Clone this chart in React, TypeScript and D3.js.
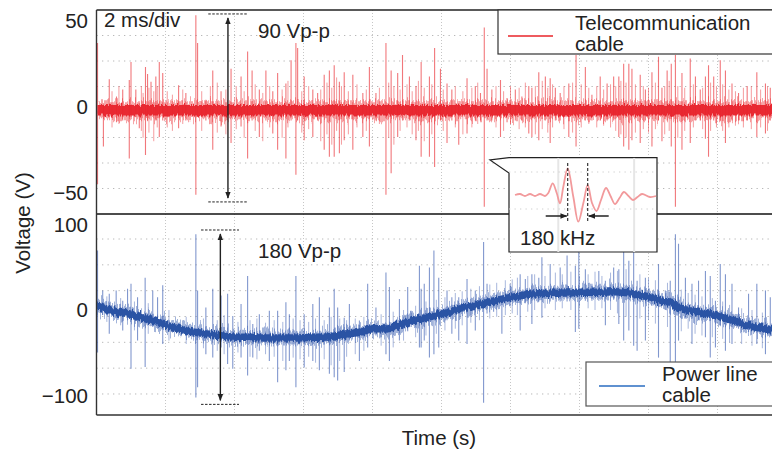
import React from 'react';
import * as d3 from 'd3';

// ---------- data ----------
const timeGridMs = [2, 4, 6, 8, 10, 12, 14, 16, 18];
const topTickValues = [50, 0, -50];
const topTickLabels = ['50', '0', '\u221250'];
const bottomTickValues = [100, 0, -100];
const bottomTickLabels = ['100', '0', '\u2212100'];

// telecommunication cable: flat baseline (ms, V)
const teleBaseline: [number, number][] = [[0, -2], [20, -2]];
// major spikes: [time ms, high V, low V]
const teleSpikes: [number, number, number][] = [
  [0.03, 37, -45], [0.2, 2, -23], [0.37, 16, -6], [0.58, 6, -9], [0.76, 10, -8], [0.95, 15.5, -30],
  [1.0, 26, -6], [1.14, 10, -6], [1.24, 2, -12.5], [1.42, 23, -28], [1.48, 19, -8], [1.58, 14.5, -8],
  [1.72, 17.5, -8], [1.82, 26, -17.5], [1.92, 19.5, -8], [2.38, 12.5, -12.5], [2.59, 8, -8], [2.88, 53, -51],
  [2.93, 37, -6], [3.17, 4, -8], [3.37, 21, -25], [3.61, 9, -11.5], [3.9, 22, -21], [4.19, 17.5, -11.5],
  [4.38, 32, -30], [4.51, 21, -8], [4.72, 10, -17.5], [4.91, 21, -8], [5.11, 9, -15.5], [5.25, 19.5, -25],
  [5.49, 13.5, -30], [5.64, 27, -8], [5.78, 37, -39.5], [5.83, 34, -8], [6.02, 17.5, -19.5], [6.27, 10, -17.5],
  [6.41, 8, -8], [6.6, 18.5, -25], [6.75, 21, -29], [6.89, 24, -29], [7.04, 14.5, -27], [7.18, 20, -19.5],
  [7.43, 18.5, -25], [7.72, 8, -17.5], [7.91, 23, -23], [8.1, 8, -8], [8.39, 37, -51], [8.54, 21, -38.5],
  [8.73, 19.5, -17.5], [8.87, 30, -8], [9.07, 17.5, -8], [9.26, 12, -19.5], [9.41, 26, -29], [9.65, 17.5, -29],
  [9.8, 34, -35], [9.97, 22, -8], [10.16, 13.5, -21], [10.3, 10, -8], [10.5, 2, -22], [10.74, 16.5, -15.5],
  [10.98, 12, -8], [11.13, 8, -8], [11.24, 46, -58], [11.32, 22, -8], [11.46, 10, -8], [11.71, 15.5, -17.5],
  [11.9, 5, -9], [12.14, 10, -8], [12.33, 6, -8], [12.53, 12, -15.5], [12.62, 11, -17.5], [12.82, 20, -19.5],
  [13.01, 17.5, -8], [13.15, 16.5, -21], [13.3, 11, -8], [13.44, 8, -8], [13.69, 13.5, -17.5], [13.9, 30, -23],
  [14.17, 23, -8], [14.36, 7, -8], [14.6, 17.5, -8], [14.8, 13.5, -8], [14.99, 17.5, -8], [15.14, 17.5, -17.5],
  [15.28, 25, -23], [15.43, 25, -25], [15.52, 22, -19.5], [15.76, 18.5, -21], [15.91, 10, -8], [16.1, 20, -23],
  [16.29, 29, -8], [16.39, 11, -20], [16.54, 21, -8], [16.66, 25, -23], [16.78, 30, -58], [16.97, 19.5, -25],
  [17.21, 28, -21], [17.36, 17.5, -8], [17.5, 10, -8], [17.65, 17.5, -18.5], [17.74, 24, -29], [17.89, 17.5, -8],
  [18.08, 27, -8], [18.23, 21, -21], [18.42, 13.5, -8], [18.61, 8, -8], [18.86, 12, -8], [19.14, 20, -17.5],
  [19.39, 13.5, -15.5], [19.53, 11, -8],
];
// minor spikes (fainter)
const teleMinor: [number, number, number][] = [
  [0.45, 9, -12], [0.65, 12, -10], [1.3, 12, -14], [1.35, 8, -18], [1.52, 11, -15], [1.66, 9, -20], [1.76, 12, -12],
  [2.05, 9, -12], [2.2, 7, -14], [2.5, 10, -10], [3.05, 9, -14], [3.3, 12, -10], [3.5, 14, -15], [3.75, 10, -16],
  [4.05, 12, -13], [4.28, 9, -18], [4.6, 13, -14], [4.82, 8, -20], [5.02, 12, -12], [5.38, 10, -18], [5.55, 15, -12],
  [5.95, 9, -15], [6.15, 12, -13], [6.5, 10, -20], [6.68, 14, -16], [6.82, 11, -22], [6.96, 17, -14], [7.1, 12, -22],
  [7.3, 9, -16], [7.55, 13, -12], [7.82, 10, -14], [8.2, 11, -10], [8.47, 14, -18], [8.62, 12, -22], [8.8, 10, -14],
  [9.0, 13, -12], [9.15, 9, -16], [9.33, 15, -14], [9.5, 11, -20], [9.72, 13, -16], [10.05, 10, -14], [10.4, 12, -12],
  [10.62, 9, -16], [10.88, 11, -12], [11.05, 14, -10], [11.58, 12, -12], [11.8, 9, -14], [12.0, 12, -10],
  [12.25, 11, -13], [12.43, 14, -12], [12.72, 12, -16], [12.92, 15, -13], [13.08, 11, -15], [13.22, 13, -12],
  [13.55, 12, -13], [13.8, 14, -15], [14.05, 13, -12], [14.27, 11, -10], [14.5, 12, -12], [14.7, 10, -11],
  [14.9, 13, -12], [15.05, 12, -14], [15.2, 15, -16], [15.35, 14, -18], [15.62, 13, -15], [15.85, 12, -13],
  [16.0, 11, -15], [16.2, 14, -13], [16.47, 12, -16], [16.6, 15, -14], [16.85, 12, -18], [17.05, 11, -14],
  [17.3, 13, -12], [17.57, 11, -13], [17.8, 14, -14], [17.97, 12, -12], [18.15, 13, -14], [18.33, 10, -12],
  [18.52, 9, -11], [18.75, 11, -12], [18.98, 12, -13], [19.25, 10, -12], [19.45, 12, -14],
];

// power line cable: slow baseline (ms, V)
const powerBaseline: [number, number][] = [
  [0, 5], [0.47, -1], [0.95, -4.7], [1.43, -10.6], [1.92, -16.5], [2.4, -22.4], [2.88, -26.3], [3.37, -29],
  [3.85, -31.4], [4.33, -32.2], [4.82, -32.9], [5.3, -32.9], [5.78, -32.9], [6.27, -32.2], [6.75, -31.4],
  [7.23, -28.2], [7.72, -25.5], [8.0, -22], [8.39, -22.4], [8.68, -19], [9.16, -12.5], [9.7, -7.5],
  [10.21, -2.7], [10.69, 3.1], [11.17, 7.1], [11.66, 11.8], [12.14, 15.7], [12.62, 18.8], [13.11, 19.6],
  [13.59, 20], [14.07, 20.8], [14.56, 20.8], [15.04, 21.6], [15.52, 19.6], [15.81, 16.9], [16.1, 14.9],
  [16.39, 10.2], [16.68, 9], [16.87, 3.1], [17.45, -2.7], [17.93, -6.7], [18.42, -12.5], [18.9, -18.4],
  [19.39, -22.4], [20, -25],
];
const powerSpikes: [number, number, number][] = [
  [0.03, 70, -50], [0.18, 23, -6], [0.37, 19, -28], [0.57, 23, -9], [0.76, 11, -24], [0.9, 25, -12],
  [1.0, 31, -69], [1.19, 15, -36], [1.41, 38, -67], [1.63, 23, -20], [1.77, 15, -22], [1.92, 29, -40],
  [2.88, 89, -103], [2.93, 23, -91], [3.17, 3, -52], [3.37, 25, -56], [3.61, 17, -44], [3.8, 19, -63.5],
  [3.95, -7, -69], [4.19, 7, -56], [4.38, 40, -77], [4.53, -16.5, -56], [4.72, -5, -48], [5.01, -1, -60],
  [5.25, -1, -85], [5.49, 9, -71], [5.59, -5, -60], [5.78, 40, -91], [6.02, -5, -67.5], [6.27, 7, -60],
  [6.46, 15, -71], [6.75, 3, -75], [6.89, 25, -79], [6.99, 3, -83], [7.18, -9, -73], [7.33, 7, -36],
  [7.62, -12.5, -60], [7.86, 31, -44], [8.1, 3, -30], [8.39, 44, -52], [8.49, 27, -60], [8.78, 13, -36],
  [9.02, 27, -25], [9.12, -1, -20], [9.36, 52, -44], [9.41, 25, -44], [9.5, 31, -36], [9.65, 50, -56],
  [9.78, 70, -52], [9.92, 38, -44], [10.16, 23, -12], [10.3, 15, -28], [10.5, 15, -36], [10.74, 36.5, -40],
  [10.98, 23, -24], [11.22, 80, -109], [11.32, 31, -4], [11.51, 15, -2], [11.75, 15, -28], [11.99, 31, 4],
  [12.28, 42, -24], [12.43, 36.5, 8], [12.62, 42, -16.5], [12.82, 38, 10], [12.91, 62, -9], [13.15, 54, 10],
  [13.44, 50, 10], [13.64, 64, 10], [13.88, 52, -26], [13.98, 76, -22], [14.17, 48, 11], [14.36, 31, 11],
  [14.56, 46, 11], [14.75, 34.5, -18], [14.99, 50, 12], [15.14, 48, -16.5], [15.28, 70, -36], [15.43, 58, -24],
  [15.57, 68, -42], [15.67, 34.5, -48], [15.91, 38, -36], [16.1, 19, 5], [16.29, 54, -56], [16.49, 23, 0],
  [16.63, 34.5, -71], [16.78, 89, -91], [16.87, 78, -36], [17.07, 38, -10], [17.26, 31, -40], [17.45, 34.5, -12],
  [17.65, 46, -32], [17.79, 40, -56], [17.94, 11, -44], [18.08, 54, -18], [18.23, 42, -48], [18.42, 31, -40],
  [18.61, 3, -22], [18.9, 19, -26], [19.14, 31, -40], [19.39, 23, -52], [19.53, 15, -30],
];
const powerMinor: [number, number, number][] = [
  [0.3, 16, -14], [0.7, 14, -18], [1.1, 10, -24], [1.5, 8, -28], [2.1, 0, -36], [2.6, -8, -40], [3.1, -10, -45],
  [3.5, -12, -48], [3.7, -6, -52], [4.1, -14, -50], [4.45, -12, -55], [4.65, -10, -58], [4.9, -15, -52],
  [5.15, -12, -55], [5.4, -14, -60], [5.7, -10, -56], [5.9, -12, -58], [6.15, -14, -55], [6.35, -10, -62],
  [6.6, -12, -58], [6.8, -8, -65], [7.05, -10, -60], [7.25, -12, -55], [7.5, -10, -52], [7.75, -8, -48],
  [8.25, -5, -42], [8.6, -2, -44], [8.9, 0, -36], [9.25, 5, -32], [9.55, 10, -30], [9.85, 12, -28], [10.1, 15, -24],
  [10.4, 20, -22], [10.6, 22, -18], [10.85, 25, -15], [11.1, 28, -12], [11.4, 30, -10], [11.6, 32, -8],
  [11.85, 35, -6], [12.05, 36, -4], [12.2, 38, -6], [12.5, 40, -2], [12.7, 42, 0], [13.0, 40, 2], [13.3, 44, 0],
  [13.5, 42, 2], [13.75, 45, 0], [14.0, 40, 4], [14.25, 42, 2], [14.45, 45, 0], [14.65, 40, 2], [14.9, 44, 0],
  [15.1, 46, -4], [15.35, 48, -8], [15.75, 42, -10], [16.0, 38, -12], [16.2, 35, -16], [16.55, 32, -20],
  [16.95, 24, -25], [17.15, 20, -22], [17.35, 18, -28], [17.55, 16, -30], [17.85, 14, -32], [18.15, 10, -34],
  [18.35, 6, -38], [18.7, 2, -40], [19.0, 0, -42], [19.3, -3, -45],
];

// inset: single burst (µs, relative amplitude)
const insetWave: [number, number][] = [
  [1.59, 0], [2.91, 1], [4.23, -1], [5.56, 1], [6.88, -1], [8.2, 1], [9.52, -1], [10.4, 2], [11.56, 11.7],
  [12.62, 2], [13.49, -8.3], [14.37, 8.3], [15.53, 26.7], [17.01, -1.7], [18.33, -26.7], [19.66, -8.3],
  [20.82, 10], [21.96, -8], [23.15, -16], [24.34, -5], [25.66, 7], [26.85, -1], [28.04, -9], [29.23, -3],
  [30.42, 3], [31.61, -1], [32.8, -5], [33.99, -2], [35.19, 1], [37.3, -2], [38.89, -1],
];
const insetPeaksUs = [15.53, 20.82];
const insetGridUs = [13.04, 33.1];

// annotations (ms, V)
const topPP = { t: 3.81, hi: 53.8, lo: -55.2, dash: [3.24, 4.37], label: '90 Vp-p' };
const botPP = { t: 3.59, hi: 94.1, lo: -111, dash: [3.03, 4.13], label: '180 Vp-p' };

// ---------- layout ----------
const W = 772, H = 450;
const FONT = "'Liberation Sans', Arial, Helvetica, sans-serif";
const FS = 20.5;
const L = 96.5, R = 786.5;
const topY0 = 10, topY1 = 214, botY1 = 415;

const x = d3.scaleLinear().domain([0, 20]).range([L, R]);
const yTop = d3.scaleLinear().domain([-62.2, 56.1]).range([topY1, topY0]);
const yBot = d3.scaleLinear().domain([-123.5, 112.9]).range([botY1, topY1]);

const insetBox = { x0: 509, x1: 657, y0: 157.7, y1: 252, tipX: 490, tipY: 160, joinY: 173 };
const xi = d3.scaleLinear().domain([0, 39.15]).range([insetBox.x0, insetBox.x1]);
const yi = d3.scaleLinear().domain([-30, 30]).range([225, 165]);

const RED = '#e8242a';
const BLUE = '#2b52a4';

function Arrow({ xPos, y1, y2, d0, d1 }: { xPos: number; y1: number; y2: number; d0: number; d1: number }) {
  return (
    <g>
      <line x1={d0} x2={d1} y1={y1} y2={y1} stroke="#222" strokeWidth={1} strokeDasharray="2.5 1.5" />
      <line x1={d0} x2={d1} y1={y2} y2={y2} stroke="#222" strokeWidth={1} strokeDasharray="2.5 1.5" />
      <line x1={xPos} x2={xPos} y1={y1 + 4} y2={y2 - 4} stroke="#222" strokeWidth={1.4}
        markerStart="url(#ahead)" markerEnd="url(#ahead)" />
    </g>
  );
}

export default function App() {
  const teleLine = d3.line<[number, number]>().x(d => x(d[0])).y(d => yTop(d[1]));
  const powerLine = d3.line<[number, number]>().x(d => x(d[0])).y(d => yBot(d[1])).curve(d3.curveMonotoneX);
  const insetLine = d3.line<[number, number]>().x(d => xi(d[0])).y(d => yi(d[1])).curve(d3.curveCatmullRom);

  const topGridY = d3.range(1, 8).map(k => topY0 + k * (topY1 - topY0) / 8);
  const botGridY = d3.range(0, 7).map(k => 239 + k * 25.83);

  const calloutPath = `M${insetBox.x0},${insetBox.y0} L${insetBox.x1},${insetBox.y0} L${insetBox.x1},${insetBox.y1} L${insetBox.x0},${insetBox.y1} L${insetBox.x0},${insetBox.joinY} L${insetBox.tipX},${insetBox.tipY} Z`;

  const teleD = teleLine(teleBaseline) || '';
  const powerD = powerLine(powerBaseline) || '';

  return (
    <svg width={W} height={H} style={{ position: 'absolute', left: 0, top: 0, background: '#fff' }}
      fontFamily={FONT}>
      <defs>
        <clipPath id="clipTop"><rect x={L} y={topY0} width={R - L} height={topY1 - topY0} /></clipPath>
        <clipPath id="clipBot"><rect x={L} y={topY1} width={R - L} height={botY1 - topY1} /></clipPath>
        <clipPath id="clipInset"><rect x={insetBox.x0} y={insetBox.y0} width={insetBox.x1 - insetBox.x0} height={insetBox.y1 - insetBox.y0} /></clipPath>
        <filter id="fuzzWide" filterUnits="userSpaceOnUse" x={0} y={0} width={W} height={H}>
          <feTurbulence type="fractalNoise" baseFrequency="0.85 0.02" numOctaves={2} seed={4} result="n" />
          <feDisplacementMap in="SourceGraphic" in2="n" scale={20} xChannelSelector="A" yChannelSelector="G" />
        </filter>
        <filter id="fuzzNarrow" filterUnits="userSpaceOnUse" x={0} y={0} width={W} height={H}>
          <feTurbulence type="fractalNoise" baseFrequency="0.7 0.03" numOctaves={2} seed={9} result="n" />
          <feDisplacementMap in="SourceGraphic" in2="n" scale={7} xChannelSelector="A" yChannelSelector="G" />
        </filter>
        <marker id="ahead" viewBox="0 0 10 10" refX="9" refY="5" markerWidth="7" markerHeight="7"
          orient="auto-start-reverse" markerUnits="userSpaceOnUse">
          <path d="M0,1 L10,5 L0,9 Z" fill="#222" />
        </marker>
        <marker id="ahead2" viewBox="0 0 10 10" refX="9" refY="5" markerWidth="8" markerHeight="7"
          orient="auto" markerUnits="userSpaceOnUse">
          <path d="M0,1 L10,5 L0,9 Z" fill="#222" />
        </marker>
      </defs>

      {/* grid */}
      <g stroke="#b8b8b8" strokeWidth={1}>
        {timeGridMs.map(t => (
          <line key={'vg' + t} x1={x(t)} x2={x(t)} y1={topY0} y2={botY1} strokeDasharray="1 2" stroke="#c6c6c6" />
        ))}
        {topGridY.map((gy, i) => (
          <line key={'tg' + i} x1={L} x2={R} y1={gy} y2={gy} strokeDasharray="1.3 4.2" />
        ))}
        {botGridY.map((gy, i) => (
          <line key={'bg' + i} x1={L} x2={R} y1={gy} y2={gy} strokeDasharray="1.3 4.2" />
        ))}
      </g>

      {/* telecom trace */}
      <g clipPath="url(#clipTop)">
        <g filter="url(#fuzzWide)">
          <path d={teleD} fill="none" stroke="#ef4a50" strokeOpacity={0.5} strokeWidth={18} />
        </g>
        {teleMinor.map((s, i) => (
          <line key={'tm' + i} x1={x(s[0])} x2={x(s[0])} y1={yTop(s[1])} y2={yTop(s[2])}
            stroke={RED} strokeOpacity={0.45} strokeWidth={1} />
        ))}
        {teleSpikes.map((s, i) => (
          <line key={'ts' + i} x1={x(s[0])} x2={x(s[0])} y1={yTop(s[1])} y2={yTop(s[2])}
            stroke={RED} strokeOpacity={0.62} strokeWidth={1.1} />
        ))}
        <g filter="url(#fuzzNarrow)">
          <path d={teleD} fill="none" stroke={RED} strokeOpacity={0.95} strokeWidth={10.5} />
        </g>
      </g>

      {/* power trace */}
      <g clipPath="url(#clipBot)">
        <g filter="url(#fuzzWide)">
          <path d={powerD} fill="none" stroke="#4767b6" strokeOpacity={0.5} strokeWidth={13} />
        </g>
        {powerMinor.map((s, i) => (
          <line key={'pm' + i} x1={x(s[0])} x2={x(s[0])} y1={yBot(s[1])} y2={yBot(s[2])}
            stroke="#3d5fb4" strokeOpacity={0.45} strokeWidth={1} />
        ))}
        {powerSpikes.map((s, i) => (
          <line key={'ps' + i} x1={x(s[0])} x2={x(s[0])} y1={yBot(s[1])} y2={yBot(s[2])}
            stroke="#3d5fb4" strokeOpacity={0.65} strokeWidth={1.1} />
        ))}
        <g filter="url(#fuzzNarrow)">
          <path d={powerD} fill="none" stroke={BLUE} strokeWidth={7.5} />
        </g>
      </g>

      {/* frame */}
      <g fill="none">
        <line x1={L} x2={R} y1={topY0} y2={topY0} stroke="#222" strokeWidth={1.3} />
        <line x1={L} x2={R} y1={topY1} y2={topY1} stroke="#111" strokeWidth={1.5} />
        <line x1={L} x2={R} y1={botY1} y2={botY1} stroke="#666" strokeWidth={2} />
        <line x1={L} x2={L} y1={topY0} y2={botY1} stroke="#333" strokeWidth={1.4} />
      </g>

      {/* y ticks */}
      <g fontSize={FS} fill="#222" textAnchor="end">
        {topTickValues.map((v, i) => (
          <text key={'tt' + i} x={88} y={yTop(v)} dominantBaseline="central">{topTickLabels[i]}</text>
        ))}
        {bottomTickValues.map((v, i) => (
          <text key={'bt' + i} x={88} y={yBot(v)} dominantBaseline="central">{bottomTickLabels[i]}</text>
        ))}
      </g>

      {/* axis titles */}
      <text x={439} y={445} fontSize={FS} fill="#222" textAnchor="middle">Time (s)</text>
      <text transform="translate(30,223) rotate(-90)" fontSize={FS} fill="#222" textAnchor="middle">Voltage (V)</text>

      {/* annotations */}
      <text x={104} y={27} fontSize={FS} fill="#222">2 ms/div</text>
      <Arrow xPos={x(topPP.t)} y1={yTop(topPP.hi)} y2={yTop(topPP.lo)} d0={x(topPP.dash[0])} d1={x(topPP.dash[1])} />
      <text x={258} y={38} fontSize={FS} fill="#222">{topPP.label}</text>
      <Arrow xPos={x(botPP.t)} y1={yBot(botPP.hi)} y2={yBot(botPP.lo)} d0={x(botPP.dash[0])} d1={x(botPP.dash[1])} />
      <text x={258} y={258} fontSize={FS} fill="#222">{botPP.label}</text>

      {/* legends */}
      <g>
        <rect x={498} y={topY0} width={300} height={44} fill="#fff" stroke="#333" strokeWidth={1.2} />
        <line x1={508} x2={553} y1={36} y2={36} stroke={RED} strokeWidth={1.5} />
        <text x={575} y={30} fontSize={FS} fill="#222">Telecommunication</text>
        <text x={575} y={51} fontSize={FS} fill="#222">cable</text>
      </g>
      <g>
        <rect x={586} y={362} width={220} height={44} fill="#fff" stroke="#555" strokeWidth={1.2} />
        <line x1={599} x2={645} y1={386} y2={386} stroke="#2a6cc0" strokeWidth={1.5} />
        <text x={662} y={381} fontSize={FS} fill="#222">Power line</text>
        <text x={662} y={402} fontSize={FS} fill="#222">cable</text>
      </g>

      {/* inset */}
      <path d={calloutPath} fill="#fff" stroke="#222" strokeWidth={1.2} strokeLinejoin="miter" />
      <g clipPath="url(#clipInset)">
        {insetGridUs.map((u, i) => (
          <line key={'ig' + i} x1={xi(u)} x2={xi(u)} y1={insetBox.y0} y2={insetBox.y1} stroke="#e6e6e6" strokeWidth={2} />
        ))}
        {[172, 209].map((gy, i) => (
          <line key={'ih' + i} x1={insetBox.x0} x2={insetBox.x1} y1={gy} y2={gy} stroke="#cfcfcf" strokeDasharray="1.3 4.2" />
        ))}
        <path d={insetLine(insetWave) || ''} fill="none" stroke="#f29a9c" strokeWidth={1.8} />
        {insetPeaksUs.map((u, i) => (
          <line key={'ip' + i} x1={xi(u)} x2={xi(u)} y1={163} y2={222} stroke="#222" strokeWidth={1.1} strokeDasharray="3 2" />
        ))}
        <line x1={xi(insetPeaksUs[0]) - 22} x2={xi(insetPeaksUs[0]) - 1} y1={216} y2={216} stroke="#222" strokeWidth={1.3} markerEnd="url(#ahead2)" />
        <line x1={xi(insetPeaksUs[1]) + 21} x2={xi(insetPeaksUs[1]) + 1} y1={216} y2={216} stroke="#222" strokeWidth={1.3} markerEnd="url(#ahead2)" />
      </g>
      <text x={520} y={245} fontSize={FS} fill="#222">180 kHz</text>
    </svg>
  );
}
